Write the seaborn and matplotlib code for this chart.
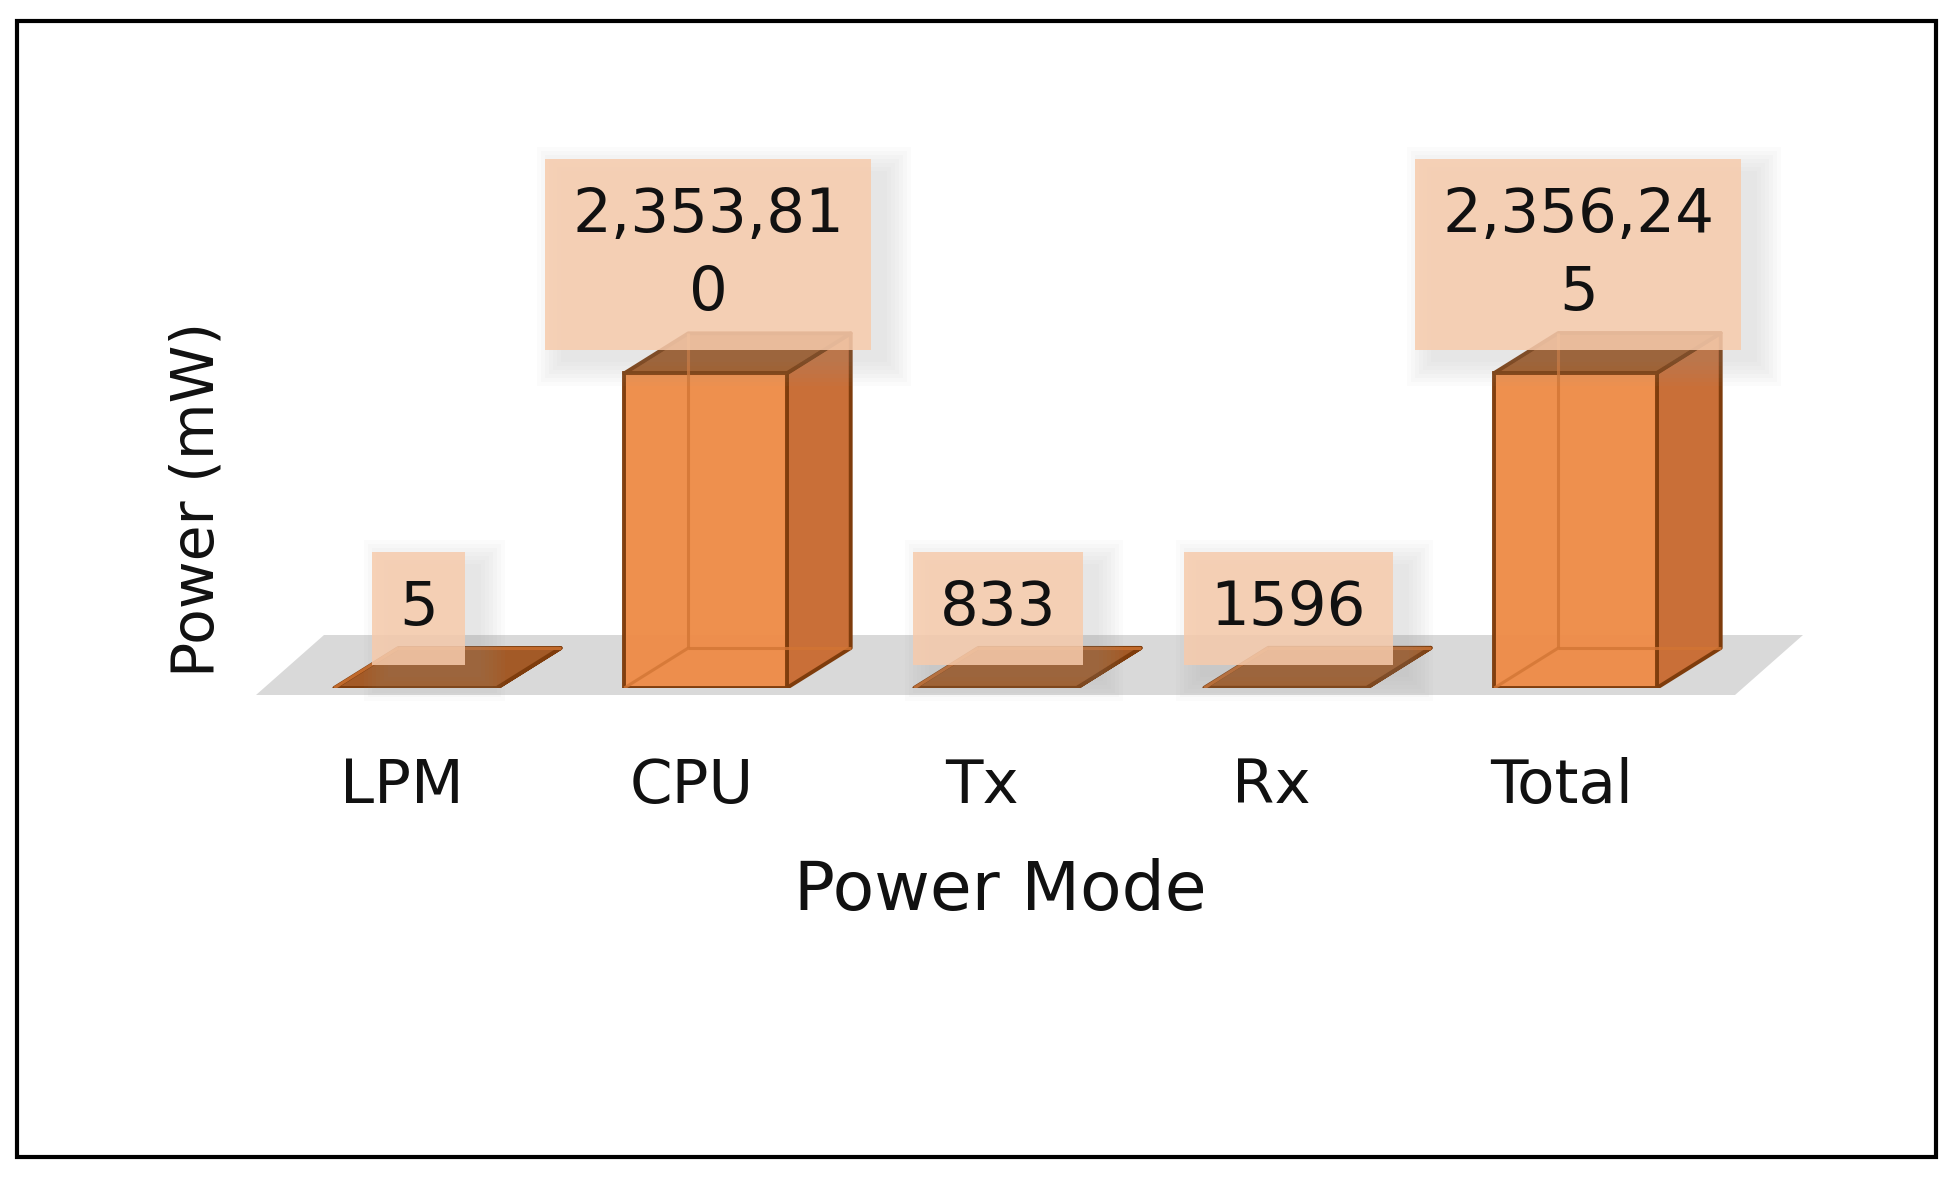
import numpy as np
import pandas as pd
import matplotlib
matplotlib.use("Agg")
import matplotlib.pyplot as plt
import matplotlib.transforms as mtransforms
from matplotlib.patches import Polygon, Rectangle
import seaborn as sns

# ---------------- data ----------------
categories = ["LPM", "CPU", "Tx", "Rx", "Total"]
power_mw = [5, 2353810, 833, 1596, 2356245]
value_labels = ["5", "2,353,81\n0", "833", "1596", "2,356,24\n5"]
x_title = "Power Mode"
y_title = "Power (mW)"

# ---------------- style ----------------
FRONT = "#EE8C48"
SIDE = "#C96F38"
TOP = "#A35A27"
EDGE = "#7E3C0C"
BACKLINE = "#D27534"
FLOOR = "#D9D9D9"
LABEL_BG = "#F7CBAC"
TEXT = "#111111"

sns.set_theme(style="white")
plt.rcParams["font.family"] = ["DejaVu Sans"]

W, H, DPI = 1955, 1183, 100
fig = plt.figure(figsize=(W / DPI, H / DPI), dpi=DPI)
fig.patch.set_facecolor("white")

ax_left, ax_right = 256, 1735
ax_base, ax_top = 688, 150
ax = fig.add_axes([ax_left / W, 1 - ax_base / H,
                   (ax_right - ax_left) / W, (ax_base - ax_top) / H])
ax.set_facecolor("none")

df = pd.DataFrame({"mode": categories, "power": power_mw})
sns.barplot(data=df, x="mode", y="power", ax=ax, width=0.56, color=FRONT,
            saturation=1, edgecolor=EDGE, linewidth=2.8, zorder=3, alpha=0.97)

ax.set_xlim(-0.55, len(categories) - 1 + 0.55)
ax.set_ylim(0, max(power_mw) * (ax_base - ax_top) / 315.0)

for s in ax.spines.values():
    s.set_visible(False)
ax.set_yticks([])
ax.tick_params(axis="x", length=0, pad=50, labelsize=44, labelcolor=TEXT)
shift = mtransforms.ScaledTranslation(-14 / DPI, 0, fig.dpi_scale_trans)
for lab in ax.get_xticklabels():
    lab.set_transform(lab.get_transform() + shift)

ax.set_xlabel(x_title, fontsize=49, color=TEXT)
ax.xaxis.set_label_coords(0.503, -0.377)
ax.xaxis.label.set_va("center")
ax.set_ylabel(y_title, fontsize=42, color=TEXT)
ax.yaxis.set_label_coords(-0.04, 0.351)
ax.yaxis.label.set_va("center")
ax.yaxis.label.set_ha("center")

inv = ax.transData.inverted()


def disp(pt):
    return np.asarray(ax.transData.transform(pt), dtype=float)


def poly(pts_disp, **kw):
    p = Polygon(inv.transform(np.array(pts_disp)), closed=True, **kw)
    ax.add_patch(p)
    return p


# floor
DXF, DYF = 68, 60
xl, xr = ax.get_xlim()
fl = disp((xl, 0)) + (0, -7)
fr = disp((xr, 0)) + (0, -7)
poly([fl, fr, fr + (DXF, DYF), fl + (DXF, DYF)], fc=FLOOR, ec="none",
     zorder=0.5, clip_on=False)

# 3D faces of the bars
D = np.array([64.0, 40.0])
bars = [p for p in ax.patches if isinstance(p, Rectangle)][: len(categories)]
for p in bars:
    x0, w, h = p.get_x(), p.get_width(), p.get_height()
    FL, FR = disp((x0, 0)), disp((x0 + w, 0))
    TL, TR = disp((x0, h)), disp((x0 + w, h))
    # see-through back edges
    for a, b in [(FL + D, TL + D), (FL + D, FR + D), (FL, FL + D)]:
        pts = inv.transform(np.array([a, b]))
        ax.plot(pts[:, 0], pts[:, 1], color=BACKLINE, lw=2.2, alpha=0.8,
                zorder=3.5, solid_capstyle="butt")
    poly([FR, TR, TR + D, FR + D], fc=SIDE, ec=EDGE, lw=2.8, zorder=2.8,
         joinstyle="round")
    poly([TL, TR, TR + D, TL + D], fc=TOP, ec=EDGE, lw=2.8, zorder=2.9,
         joinstyle="round")

# data labels
anns = []
for p, lab in zip(bars, value_labels):
    cx = p.get_x() + p.get_width() / 2
    a = ax.annotate(lab, xy=(cx, p.get_height()), xytext=(2, 36),
                    textcoords="offset points", ha="center", va="bottom",
                    fontsize=44, color=TEXT, linespacing=1.42, zorder=6,
                    annotation_clip=False,
                    bbox=dict(boxstyle="square,pad=0.44", fc=LABEL_BG,
                              ec="none", alpha=0.85))
    anns.append(a)

fig.canvas.draw()
r = fig.canvas.get_renderer()
for a in anns:
    bb = a.get_bbox_patch().get_window_extent(r)
    for k in range(7):
        g = 4 * k
        sh = Rectangle((bb.x0 + 16 - g, bb.y0 - 12 - g),
                       bb.width + 2 * g, bb.height + 2 * g,
                       transform=mtransforms.IdentityTransform(),
                       fc="#9a9a9a", ec="none", alpha=0.035, zorder=5,
                       clip_on=False)
        ax.add_artist(sh)

# outer border
fig.add_artist(Rectangle((17 / W, 1 - 1157 / H), (1936 - 17) / W,
                         (1157 - 21) / H, transform=fig.transFigure,
                         fill=False, ec="black", lw=3, zorder=10))

fig.savefig("out.png", dpi=DPI, facecolor="white")
